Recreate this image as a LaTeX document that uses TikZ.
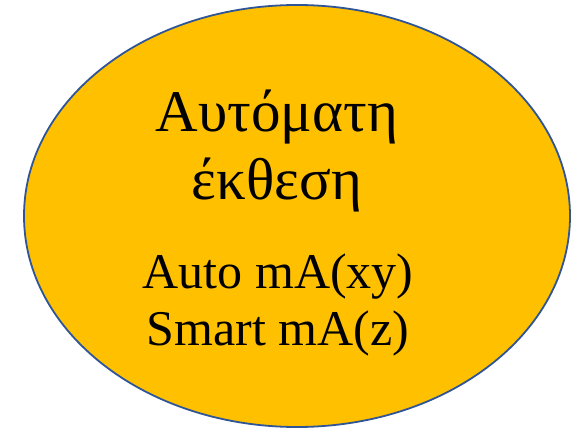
\documentclass[tikz,border=0pt]{standalone}
\usepackage{fontspec}
\setmainfont{Liberation Serif}
\usepackage{tikz}
\usetikzlibrary{positioning}
\definecolor{jaune}{RGB}{255,192,0}
\definecolor{bleuc}{RGB}{47,85,151}

\begin{document}
\begin{tikzpicture}[x=1pt, y=-1pt,
  gr/.style={anchor=base, inner sep=0pt, font=\fontsize{59}{66}\selectfont},
  lat/.style={anchor=base, inner sep=0pt, font=\fontsize{50}{56}\selectfont}]
\useasboundingbox (0,0) rectangle (572,430);
\draw[draw=bleuc, fill=jaune, line width=1.8pt] (297,216) ellipse[x radius=273, y radius=211];
\node[gr] (l1) at (277,132) {Αυτόματη};
\node[gr] (l2) at (277,200) {έκθεση};
\node[lat] (l3) at (278,288) {Auto mA(xy)};
\node[lat] (l4) at (278,345) {Smart mA(z)};
\end{tikzpicture}
\end{document}
